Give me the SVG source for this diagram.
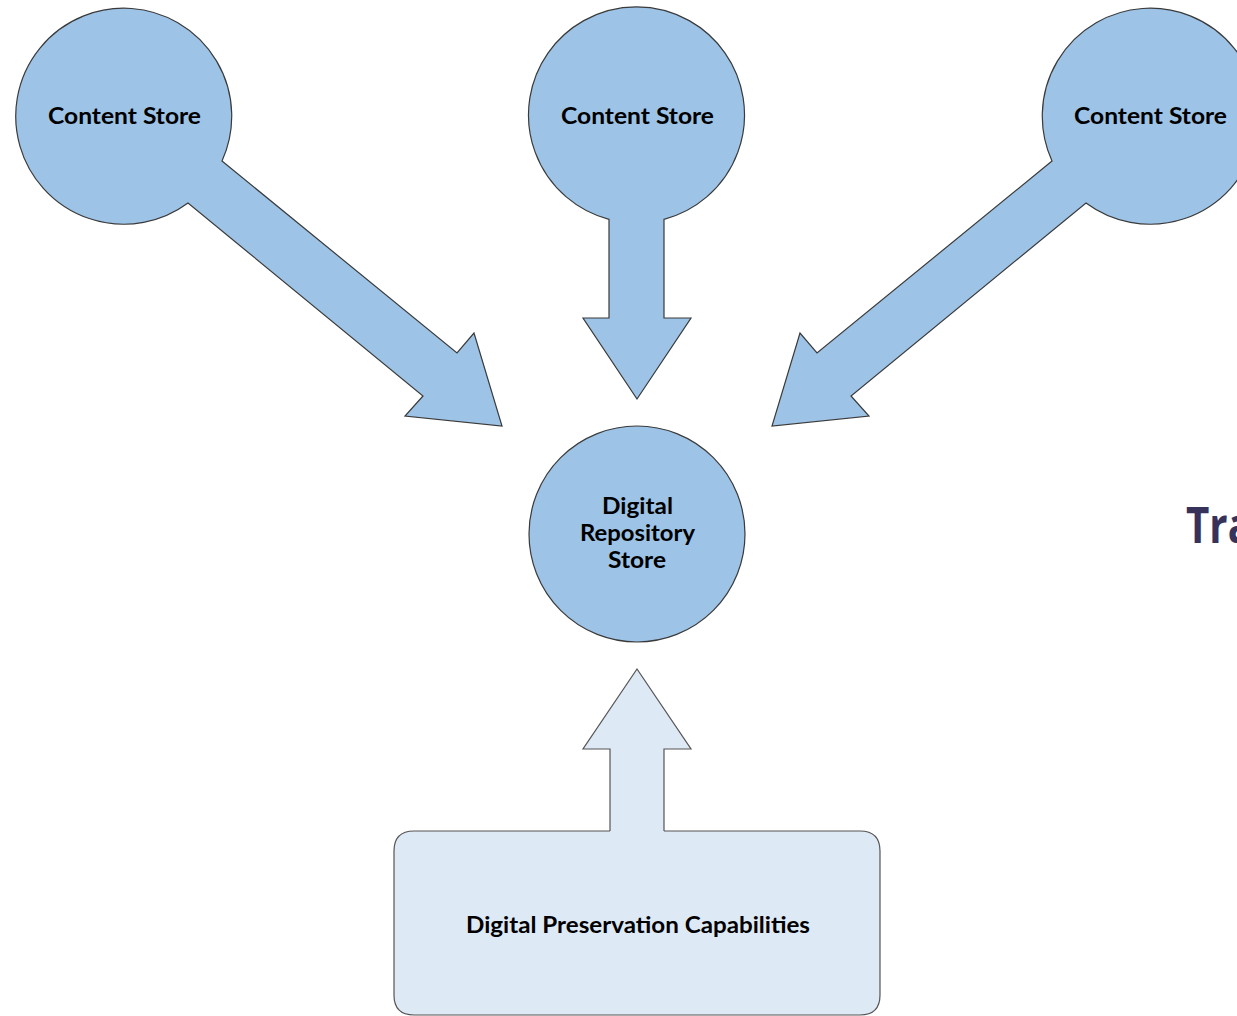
<svg xmlns="http://www.w3.org/2000/svg" width="1237" height="1016" viewBox="0 0 1237 1016">
  <style>
    .shape { fill: #9dc3e6; stroke: #3a3a3a; stroke-width: 1.2; stroke-linejoin: miter; }
    .light { fill: #dde9f5; stroke: #555555; stroke-width: 1.2; }
    .lbl { font-family: Lato, "Liberation Sans", sans-serif; font-weight: bold; font-size: 22px; fill: #000000; text-anchor: middle; }
    .title { font-family: "Open Sans", "Liberation Sans", sans-serif; font-weight: bold; font-size: 50px; fill: #36325a; }
  </style>
  <rect x="0" y="0" width="1237" height="1016" fill="#ffffff"/>

  <g id="connectors">
    <path id="arrow-up" class="light" d="M 610 831 L 610 749 L 583 749 L 637 669 L 691 749 L 664 749 L 664 831"/>
  </g>

  <g id="content-store-left">
    <path class="shape" d="M 222 161 L 457 353 L 474 333 L 502 426 L 405 416 L 423 396 L 188 203 A 108 108 0 1 1 222 161 Z"/>
    <text class="lbl" x="124.5" y="124" textLength="153" lengthAdjust="spacingAndGlyphs">Content Store</text>
  </g>

  <g id="content-store-middle">
    <path class="shape" d="M 609 219.3 L 609 318 L 583 318 L 637 399 L 691 318 L 664 318 L 664 219.3 A 108 108 0 1 0 609 219.3 Z"/>
    <text class="lbl" x="637.5" y="124" textLength="153" lengthAdjust="spacingAndGlyphs">Content Store</text>
  </g>

  <g id="content-store-right">
    <path class="shape" d="M 1052 161 L 817 353 L 800 333 L 772 426 L 869 416 L 851 396 L 1086 203 A 108 108 0 1 0 1052 161 Z"/>
    <text class="lbl" x="1150.5" y="124" textLength="153" lengthAdjust="spacingAndGlyphs">Content Store</text>
  </g>

  <g id="digital-repository-store">
    <circle class="shape" cx="637" cy="534" r="108"/>
    <text class="lbl" x="637.5" y="514" textLength="71" lengthAdjust="spacingAndGlyphs">Digital</text>
    <text class="lbl" x="637.5" y="541" textLength="115" lengthAdjust="spacingAndGlyphs">Repository</text>
    <text class="lbl" x="637" y="568" textLength="58" lengthAdjust="spacingAndGlyphs">Store</text>
  </g>

  <g id="digital-preservation-capabilities">
    <path class="light" d="M 610 831 L 414 831 Q 394 831 394 851 L 394 995 Q 394 1015 414 1015 L 860 1015 Q 880 1015 880 995 L 880 851 Q 880 831 860 831 L 664 831"/>
    <rect x="611" y="829" width="52" height="4" fill="#dde9f5"/>
    <text class="lbl" x="638" y="933" textLength="344" lengthAdjust="spacingAndGlyphs">Digital Preservation Capabilities</text>
  </g>

  <text class="title" x="1186" y="543" textLength="66" lengthAdjust="spacingAndGlyphs">Tra</text>
</svg>
